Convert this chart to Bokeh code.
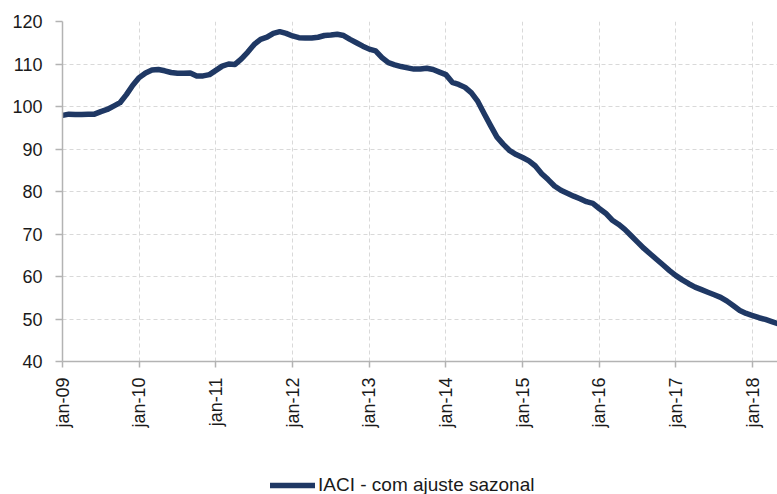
from bokeh.plotting import figure
from bokeh.layouts import column
from bokeh.models import (Range1d, FixedTicker, Legend, LegendItem, ColumnDataSource)
from bokeh.embed import file_html
from bokeh.resources import INLINE
import math

# Monthly index values, jan-09 onwards (month index 0 = jan-09)
iaci = [
    97.9, 98.2, 98.1, 98.1, 98.2, 98.2, 98.8, 99.3, 100.1, 100.9, 102.8, 105.0,   # 2009
    106.8, 107.9, 108.6, 108.7, 108.4, 108.0, 107.8, 107.8, 107.9, 107.2, 107.2, 107.5,  # 2010
    108.5, 109.5, 110.0, 109.9, 111.2, 112.8, 114.6, 115.8, 116.3, 117.2, 117.6, 117.2,  # 2011
    116.6, 116.2, 116.1, 116.1, 116.3, 116.7, 116.8, 117.0, 116.7, 115.8, 115.0, 114.2,  # 2012
    113.5, 113.1, 111.5, 110.3, 109.8, 109.4, 109.1, 108.8, 108.8, 109.0, 108.7, 108.1,  # 2013
    107.5, 105.7, 105.2, 104.5, 103.2, 101.2, 98.3, 95.5, 92.8, 91.1, 89.6, 88.7,       # 2014
    88.0, 87.2, 86.0, 84.2, 82.8, 81.3, 80.3, 79.6, 78.9, 78.3, 77.6, 77.2,             # 2015
    76.0, 74.9, 73.3, 72.3, 71.1, 69.6, 68.1, 66.6, 65.3, 64.0, 62.7, 61.4,             # 2016
    60.2, 59.2, 58.3, 57.5, 56.9, 56.3, 55.7, 55.1, 54.2, 53.1, 52.0, 51.3,             # 2017
    50.8, 50.3, 49.9, 49.4, 48.9,                                                        # 2018
]
months = list(range(len(iaci)))

year_ticks = [0, 12, 24, 36, 48, 60, 72, 84, 96, 108]
year_labels = ["jan-09", "jan-10", "jan-11", "jan-12", "jan-13",
               "jan-14", "jan-15", "jan-16", "jan-17", "jan-18"]
y_ticks = [40, 50, 60, 70, 80, 90, 100, 110, 120]
series_name = "IACI - com ajuste sazonal"

FONT = "Liberation Sans"
TXT = "#1a1a1a"
LINE_COLOR = "#1F3864"

p = figure(width=777, height=455, output_backend="svg", toolbar_location=None,
           x_range=Range1d(0, 111.9), y_range=Range1d(40, 120),
           min_border_left=62, min_border_right=0, min_border_top=21,
           min_border_bottom=94)
p.outline_line_color = None
p.background_fill_color = "white"

src = ColumnDataSource(dict(x=months, y=iaci))
r = p.line("x", "y", source=src, line_color=LINE_COLOR, line_width=5.5,
           line_join="round", line_cap="round")

# axes
xa = p.xaxis[0]
xa.ticker = FixedTicker(ticks=year_ticks)
xa.major_label_overrides = {t: l for t, l in zip(year_ticks, year_labels)}
xa.major_label_orientation = math.pi / 2
xa.minor_tick_line_color = None
xa.major_tick_out = 6
xa.major_tick_in = 0
xa.major_label_standoff = 10
ya = p.yaxis[0]
ya.ticker = FixedTicker(ticks=y_ticks)
ya.minor_tick_line_color = None
ya.major_tick_out = 7
ya.major_tick_in = 0
ya.major_label_standoff = 13
for ax in (xa, ya):
    ax.axis_line_color = "#b3b3b3"
    ax.axis_line_width = 1.5
    ax.major_tick_line_color = "#b3b3b3"
    ax.major_tick_line_width = 1.5
    ax.major_label_text_font = FONT
    ax.major_label_text_font_size = "18px"
    ax.major_label_text_color = TXT

# grid
p.xgrid.ticker = FixedTicker(ticks=year_ticks)
p.ygrid.ticker = FixedTicker(ticks=y_ticks)
for g in (p.xgrid, p.ygrid):
    g.grid_line_color = "#d9d9d9"
    g.grid_line_dash = "4 3"
    g.grid_line_width = 1

# legend strip below the chart (its own series copy sits outside its view)
lg = figure(width=777, height=39, output_backend="svg", toolbar_location=None,
            x_range=Range1d(-1000, -999), y_range=Range1d(-1000, -999),
            x_axis_type=None, y_axis_type=None,
            min_border_left=0, min_border_right=0, min_border_top=0,
            min_border_bottom=0)
lg.outline_line_color = None
lg.grid.visible = False
lr = lg.line("x", "y", source=src, line_color=LINE_COLOR, line_width=5.5,
             line_join="round", line_cap="round")
legend = Legend(items=[LegendItem(label=series_name, renderers=[lr])],
                location=(208, -2), orientation="horizontal",
                glyph_width=45, glyph_height=20, label_standoff=3,
                padding=0, margin=0, border_line_color=None,
                background_fill_alpha=0,
                label_text_font=FONT, label_text_font_size="19px",
                label_text_color=TXT)
lg.add_layout(legend)

layout = column(p, lg, spacing=0)
open("out.html", "w").write(file_html(layout, INLINE))
